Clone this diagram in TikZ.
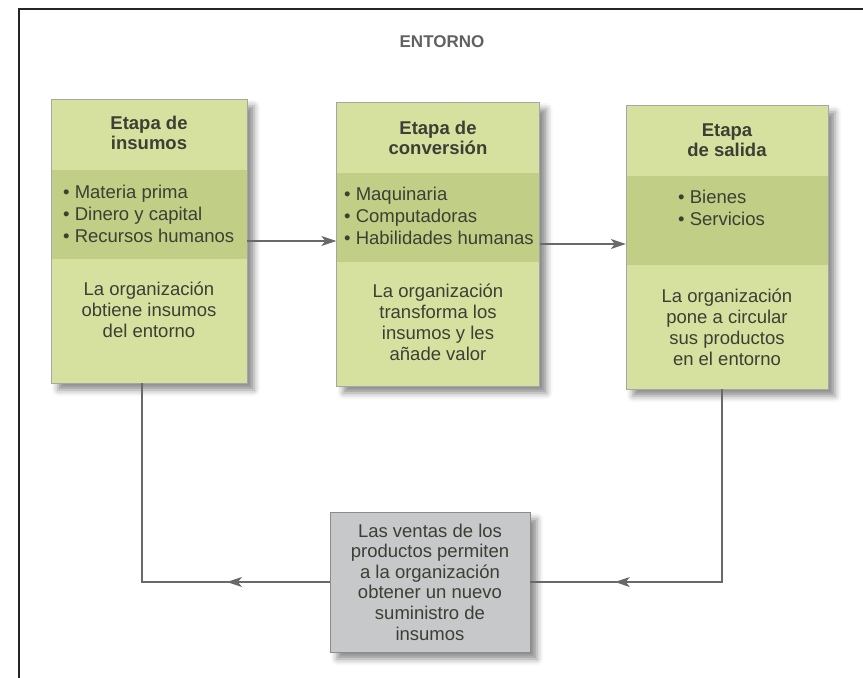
\documentclass[tikz,border=0pt]{standalone}
\usepackage{fontspec}
\setmainfont{Liberation Sans}
\usetikzlibrary{arrows.meta,shadows.blur,decorations.markings}
\definecolor{verdeclaro}{RGB}{214,225,160}
\definecolor{verdeoscuro}{RGB}{192,206,134}
\definecolor{grisventa}{RGB}{198,200,202}
\definecolor{tinta}{RGB}{60,63,52}
\definecolor{gristrazo}{RGB}{105,105,105}
\begin{document}
\begin{tikzpicture}[x=1pt,y=-1pt,
 etapa/.style={draw=black!35, fill=verdeclaro, minimum width=#1, minimum height=284pt, inner sep=0pt,
   blur shadow={shadow xshift=7pt, shadow yshift=-7pt, shadow blur radius=6pt, shadow opacity=45}},
 banda/.style={fill=verdeoscuro, minimum width=#1, minimum height=89pt, inner sep=0pt},
 venta/.style={draw=black!45, fill=grisventa, minimum width=200pt, minimum height=140pt, inner sep=0pt,
   align=center, text=tinta, font=\fontsize{18.5}{20.6}\selectfont,
   blur shadow={shadow xshift=7pt, shadow yshift=-7pt, shadow blur radius=6pt, shadow opacity=45}},
 titulo/.style={font=\bfseries\fontsize{18.5}{20.5}\selectfont, text=tinta, align=center, inner sep=0pt},
 lista/.style={font=\fontsize{18.5}{22}\selectfont, text=tinta, align=left, inner sep=0pt, anchor=north west},
 parrafo/.style={font=\fontsize{18.5}{21}\selectfont, text=tinta, align=center, inner sep=0pt, anchor=north},
 linea/.style={draw=gristrazo, line width=1.1pt},
 punta/.style={postaction={decorate}, decoration={markings,
   mark=at position #1 with {\arrow{Stealth[length=15pt,width=10pt,inset=4pt,color=gristrazo]}}}}]
\useasboundingbox (0,0) rectangle (863,678);
\draw[black!85, line width=2.4pt] (19,678) |- (863,9);
\node[font=\bfseries\fontsize{17}{20}\selectfont, text=black!62] (ent) at (442,42) {ENTORNO};

\node[etapa=196pt] (ins) at (149,241) {};
\node[etapa=203pt] (conv) at (438,244) {};
\node[etapa=202pt] (sal) at (727,247) {};
\node[banda=195pt] (insm) at (149,214.5) {};
\node[banda=202pt] (convm) at (438,217.5) {};
\node[banda=201pt] (salm) at (727,220.5) {};

\node[titulo] (insh) at (149,133) {Etapa de\\insumos};
\node[titulo] (convh) at (438,138) {Etapa de\\conversión};
\node[titulo] (salh) at (727,140) {Etapa\\de salida};

\node[lista] (insl) at (63,185) {• Materia prima\\• Dinero y capital\\• Recursos humanos};
\node[lista] (convl) at (344,187) {• Maquinaria\\• Computadoras\\• Habilidades humanas};
\node[lista] (sall) at (678,190) {• Bienes\\• Servicios};

\node[parrafo] (insp) at (149,282) {La organización\\obtiene insumos\\del entorno};
\node[parrafo] (convp) at (438,284) {La organización\\transforma los\\insumos y les\\añade valor};
\node[parrafo] (salp) at (727,289) {La organización\\pone a circular\\sus productos\\en el entorno};

\node[venta] (ventas) at (430,582) {Las ventas de los\\productos permiten\\a la organización\\obtener un nuevo\\suministro de\\insumos};

\draw[linea,-{Stealth[length=15pt,width=10pt,inset=4pt]}] (ins.east) -- (ins.east -| conv.west);
\draw[linea,-{Stealth[length=15pt,width=10pt,inset=4pt]}] (conv.east) -- (conv.east -| sal.west);
\draw[linea, punta=0.266] (ventas.west) -| ([xshift=-7pt]ins.south);
\draw[linea, punta=0.78] ([xshift=-5pt]sal.south) |- (ventas.east);

\end{tikzpicture}
\end{document}
